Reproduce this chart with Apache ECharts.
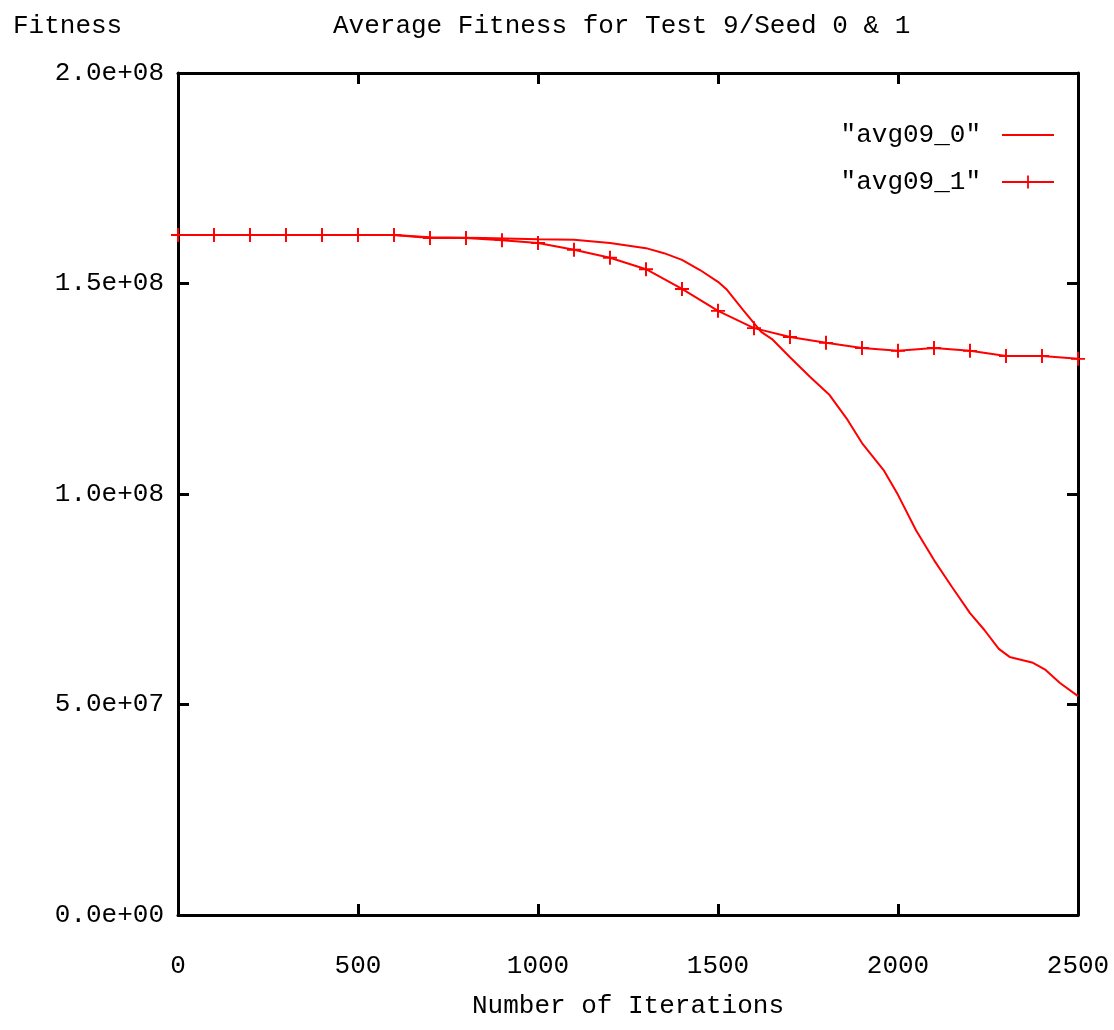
<!DOCTYPE html>
<html>
<head>
<meta charset="utf-8">
<script src="https://cdn.jsdelivr.net/npm/echarts@6/dist/echarts.min.js"></script>
<style>
html,body{margin:0;padding:0;background:#fff;}
#chart{width:1114px;height:1030px;}
</style>
</head>
<body>
<div id="chart"></div>
<script>
// ---- data ----
const chartTitle = 'Average Fitness for Test 9/Seed 0 & 1';
const yAxisTitle = 'Fitness';
const xAxisTitle = 'Number of Iterations';
const seriesNames = ['"avg09_0"', '"avg09_1"'];

const iterations0 = [0, 600, 700, 850, 1000, 1100, 1200, 1300, 1350, 1400, 1450, 1500, 1525, 1570, 1620, 1650, 1700, 1756, 1810, 1860, 1900, 1960, 2000, 2050, 2100, 2150, 2200, 2240, 2280, 2310, 2375, 2410, 2450, 2500];
const fitness0 = [161.5e6, 161.5e6, 161.0e6, 160.8e6, 160.5e6, 160.4e6, 159.6e6, 158.4e6, 157.2e6, 155.6e6, 153.2e6, 150.4e6, 148.5e6, 143.7e6, 138.5e6, 136.8e6, 132.5e6, 127.8e6, 123.5e6, 117.6e6, 112.1e6, 105.7e6, 99.8e6, 91.4e6, 84.3e6, 77.9e6, 71.7e6, 67.7e6, 63.2e6, 61.3e6, 59.9e6, 58.2e6, 55.1e6, 52.0e6];

const iterations1 = [0, 100, 200, 300, 400, 500, 600, 700, 800, 900, 1000, 1100, 1200, 1300, 1400, 1500, 1600, 1700, 1800, 1900, 2000, 2100, 2200, 2300, 2400, 2500];
const fitness1 = [161.5e6, 161.5e6, 161.5e6, 161.5e6, 161.5e6, 161.5e6, 161.5e6, 160.8e6, 160.8e6, 160.3e6, 159.6e6, 158.0e6, 156.1e6, 153.4e6, 148.7e6, 143.5e6, 139.4e6, 137.3e6, 135.9e6, 134.7e6, 134.0e6, 134.7e6, 134.0e6, 132.8e6, 132.8e6, 132.1e6];

const xTicks = [0, 500, 1000, 1500, 2000, 2500];
const yTicks = [0, 5e7, 1e8, 1.5e8, 2e8];

// ---- chart ----
const FONT = 'Liberation Mono';
const FS = 26;
const RED = '#ff0000';
const plusPath = 'path://M4.3,0 H5.7 V4.3 H10 V5.7 H5.7 V10 H4.3 V5.7 H0 V4.3 H4.3 Z';
const legendLineIcon = 'path://M0,0 M52,16 M0,7.1 H52 V8.9 H0 Z';
const legendPlusIcon = 'path://M0,0 M52,16 M0,7.1 H52 V8.9 H0 Z M25.1,1.5 H26.9 V14.5 H25.1 Z';

function sci(v) {
  const s = Number(v).toExponential(1); // e.g. 2.0e+8
  const m = s.match(/^(-?[\d.]+)e([+-])(\d+)$/);
  if (!m) return s;
  const exp = m[3].length < 2 ? '0' + m[3] : m[3];
  return m[1] + 'e' + m[2] + exp;
}

const pairs = (xs, ys) => xs.map((x, i) => [x, ys[i]]);

const axisLineStyle = { color: '#000', width: 3 };
const tickStyle = { color: '#000', width: 3 };
const xMin = xTicks[0], xMax = xTicks[xTicks.length - 1];
const yMin = yTicks[0], yMax = yTicks[yTicks.length - 1];

const chart = echarts.init(document.getElementById('chart'), null, { renderer: 'canvas' });
chart.setOption({
  animation: false,
  backgroundColor: '#fff',
  textStyle: { fontFamily: FONT },
  title: [
    { text: yAxisTitle, left: 8, top: 8, textStyle: { fontFamily: FONT, fontSize: FS, fontWeight: 'normal', color: '#000' } },
    { text: chartTitle, left: 328, top: 8, textStyle: { fontFamily: FONT, fontSize: FS, fontWeight: 'normal', color: '#000' } }
  ],
  legend: {
    orient: 'vertical',
    right: 55,
    top: 117,
    align: 'right',
    itemWidth: 52,
    itemHeight: 16,
    itemGap: 21,
    textStyle: { fontFamily: FONT, fontSize: FS, color: '#000', padding: [0, 16, 0, 0] },
    data: [
      { name: seriesNames[0], icon: legendLineIcon, itemStyle: { color: RED } },
      { name: seriesNames[1], icon: legendPlusIcon, itemStyle: { color: RED } }
    ]
  },
  grid: { left: 178, right: 36, top: 73, bottom: 115, containLabel: false },
  xAxis: [
    {
      type: 'value', position: 'bottom', min: xMin, max: xMax, interval: 500,
      name: xAxisTitle, nameLocation: 'middle', nameGap: 78,
      nameTextStyle: { fontFamily: FONT, fontSize: FS, color: '#000' },
      axisLine: { show: true, onZero: false, lineStyle: axisLineStyle },
      axisTick: { show: true, inside: true, length: 11, lineStyle: tickStyle },
      axisLabel: { fontFamily: FONT, fontSize: FS, color: '#000', margin: 38, formatter: v => String(v) },
      splitLine: { show: false }
    },
    {
      type: 'value', position: 'top', min: xMin, max: xMax, interval: 500,
      axisLine: { show: true, onZero: false, lineStyle: axisLineStyle },
      axisTick: { show: true, inside: true, length: 11, lineStyle: tickStyle },
      axisLabel: { show: false },
      splitLine: { show: false }
    }
  ],
  yAxis: [
    {
      type: 'value', position: 'left', min: yMin, max: yMax, interval: 5e7,
      axisLine: { show: true, onZero: false, lineStyle: axisLineStyle },
      axisTick: { show: true, inside: true, length: 11, lineStyle: tickStyle },
      axisLabel: { fontFamily: FONT, fontSize: FS, color: '#000', margin: 14, formatter: sci },
      splitLine: { show: false }
    },
    {
      type: 'value', position: 'right', min: yMin, max: yMax, interval: 5e7,
      axisLine: { show: true, onZero: false, lineStyle: axisLineStyle },
      axisTick: { show: true, inside: true, length: 11, lineStyle: tickStyle },
      axisLabel: { show: false },
      splitLine: { show: false }
    }
  ],
  series: [
    {
      name: seriesNames[0], type: 'line', xAxisIndex: 0, yAxisIndex: 0,
      data: pairs(iterations0, fitness0),
      symbol: 'none', smooth: false,
      lineStyle: { color: RED, width: 2 },
      itemStyle: { color: RED }
    },
    {
      name: seriesNames[1], type: 'line', xAxisIndex: 1, yAxisIndex: 1,
      data: pairs(iterations1, fitness1),
      symbol: plusPath, symbolSize: 14, showSymbol: true,
      lineStyle: { color: RED, width: 2 },
      itemStyle: { color: RED, borderWidth: 0 }
    }
  ]
});
</script>
</body>
</html>
